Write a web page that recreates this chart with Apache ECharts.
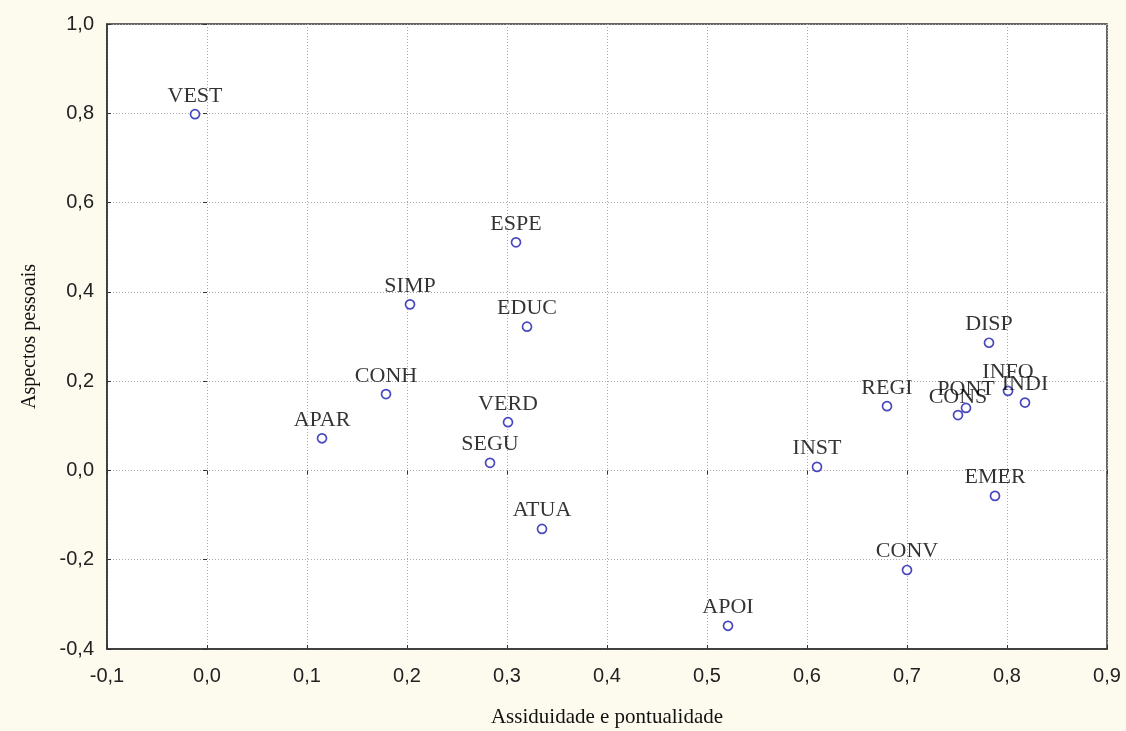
<!DOCTYPE html>
<html>
<head>
<meta charset="utf-8">
<script src="https://cdn.jsdelivr.net/npm/echarts@6/dist/echarts.min.js"></script>
<style>
html,body{margin:0;padding:0;background:#FDFAEE;}
#chart{width:1126px;height:731px;}
</style>
</head>
<body>
<div id="chart"></div>
<script>
const labels = ['VEST','ESPE','SIMP','EDUC','CONH','APAR','VERD','SEGU','ATUA','APOI','INST','CONV','REGI','DISP','INFO','INDI','PONT','CONS','EMER'];
const xValues = [-0.012, 0.309, 0.203, 0.320, 0.179, 0.115, 0.301, 0.283, 0.335, 0.521, 0.610, 0.700, 0.680, 0.782, 0.801, 0.818, 0.759, 0.751, 0.788];
const yValues = [0.798, 0.511, 0.372, 0.322, 0.171, 0.072, 0.108, 0.017, -0.131, -0.348, 0.008, -0.223, 0.144, 0.286, 0.178, 0.152, 0.140, 0.124, -0.057];
const xTitle = 'Assiduidade e pontualidade';
const yTitle = 'Aspectos pessoais';

const points = labels.map((n, i) => ({ name: n, value: [xValues[i], yValues[i]] }));
const fmt = v => { if (Math.abs(v) < 1e-9) v = 0; return v.toFixed(1).replace('.', ','); };

const chart = echarts.init(document.getElementById('chart'));
const tickStyle = { show: true, inside: true, length: 4, lineStyle: { color: '#333', width: 1 } };
const gridLine = { show: true, lineStyle: { color: '#aaa', type: [1, 2], width: 1 } };
chart.setOption({
  backgroundColor: '#FDFAEE',
  animation: false,
  grid: { left: 107, right: 19, top: 24, bottom: 82, outerBoundsMode: 'none', containLabel: false,
          show: true, backgroundColor: '#fff', borderColor: '#333', borderWidth: 1.5 },
  xAxis: [{
    type: 'value', min: -0.1, max: 0.9, interval: 0.1,
    name: xTitle, nameLocation: 'middle', nameGap: 58,
    nameTextStyle: { fontFamily: 'Liberation Serif', fontSize: 21, color: '#111' },
    axisLine: { show: true, onZero: false, lineStyle: { color: '#333', width: 1.5 } },
    axisTick: tickStyle,
    axisLabel: { formatter: fmt, fontFamily: 'Liberation Sans', fontSize: 20, color: '#222', margin: 17 },
    splitLine: gridLine
  }, {
    type: 'value', min: -0.1, max: 0.9, interval: 0.1, position: 'top',
    axisLine: { show: false }, axisTick: tickStyle, axisLabel: { show: false }, splitLine: { show: false }
  }],
  yAxis: [{
    type: 'value', min: -0.4, max: 1.0, interval: 0.2,
    name: yTitle, nameLocation: 'middle', nameGap: 67,
    nameTextStyle: { fontFamily: 'Liberation Serif', fontSize: 20, color: '#111' },
    axisLine: { show: true, onZero: false, lineStyle: { color: '#333', width: 1.5 } },
    axisTick: tickStyle,
    axisLabel: { formatter: fmt, fontFamily: 'Liberation Sans', fontSize: 20, color: '#222', margin: 13 },
    splitLine: gridLine
  }, {
    type: 'value', min: -0.4, max: 1.0, interval: 0.2, position: 'right',
    axisLine: { show: false }, axisTick: tickStyle, axisLabel: { show: false }, splitLine: { show: false }
  }],
  series: [{
    type: 'scatter',
    data: points,
    symbol: 'circle',
    symbolSize: 9,
    itemStyle: { color: '#fff', borderColor: '#1A1AB0', borderWidth: 1.7 },
    label: {
      show: true, position: 'top', distance: 2,
      formatter: p => p.name,
      fontFamily: 'Liberation Serif', fontSize: 22, color: '#000'
    }
  }]
});
</script>
</body>
</html>
